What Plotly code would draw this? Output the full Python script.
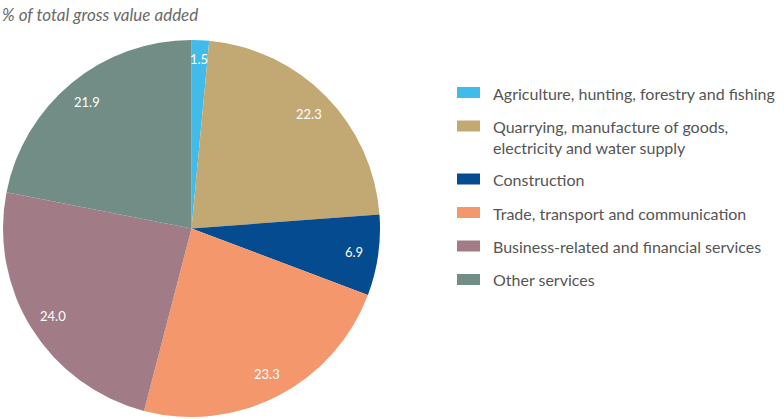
import math
import plotly.graph_objects as go

W, H = 784, 419

labels = [
    "Agriculture, hunting, forestry and fishing",
    "Quarrying, manufacture of goods,<br>electricity and water supply",
    "Construction",
    "Trade, transport and communication",
    "Business-related and financial services",
    "Other services",
]
values = [1.5, 22.3, 6.9, 23.3, 24.0, 21.9]
colors = ["#41BBEA", "#C2A974", "#044B8F", "#F4976C", "#A17C86", "#728D86"]
title_text = "% of total gross value added"

FONT = "Lato"

# pie geometry (pixels)
cx, cy, R = 191.5, 228.5, 188.5

fig = go.Figure()
fig.add_trace(go.Pie(
    labels=[l.replace("<br>", " ") for l in labels],
    values=values,
    marker=dict(colors=colors, line=dict(width=0)),
    sort=False,
    direction="clockwise",
    rotation=0,
    textinfo="none",
    hoverinfo="label+value",
    showlegend=False,
    domain=dict(x=[(cx - R) / W, (cx + R) / W], y=[(H - cy - R) / H, (H - cy + R) / H]),
))

annotations = []
shapes = []

# slice value labels, positioned from the data
total = sum(values)
cum = 0.0
for v in values:
    mid = (cum + v / 2) / total * 2 * math.pi
    cum += v
    r = (0.9 if v < 3 else 0.87) * R
    px = cx + r * math.sin(mid)
    py = cy - r * math.cos(mid)
    annotations.append(dict(
        x=px / W, y=(H - py) / H, xref="paper", yref="paper",
        text=f"{v:.1f}", showarrow=False,
        font=dict(family=FONT, size=13, color="white"),
        xanchor="center", yanchor="middle",
    ))

# title
annotations.append(dict(
    x=0 / W, y=(H - 14) / H, xref="paper", yref="paper",
    text=f"<i>{title_text}</i>", showarrow=False,
    font=dict(family=FONT, size=17, color="#6A6A6A"),
    xanchor="left", yanchor="middle",
))

# manual legend
row_y = 92.5
step = 33.5
line_h = 20
for lab, col in zip(labels, colors):
    shapes.append(dict(
        type="rect", xref="paper", yref="paper",
        x0=457 / W, x1=480 / W,
        y0=(H - (row_y - 5.5)) / H, y1=(H - (row_y + 5.5)) / H,
        fillcolor=col, line=dict(width=0),
    ))
    annotations.append(dict(
        x=491 / W, y=(H - (row_y - line_h / 2 - 1)) / H, xref="paper", yref="paper",
        text=lab, showarrow=False, align="left",
        font=dict(family=FONT, size=16, color="#555555"),
        xanchor="left", yanchor="top",
    ))
    nlines = lab.count("<br>") + 1
    row_y += step + (nlines - 1) * 19.5

fig.update_layout(
    width=W, height=H,
    margin=dict(l=0, r=0, t=0, b=0),
    paper_bgcolor="white",
    plot_bgcolor="white",
    showlegend=False,
    annotations=annotations,
    shapes=shapes,
)

fig.write_html("out.html")
